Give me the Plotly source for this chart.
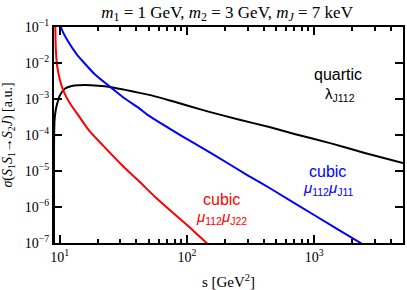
import math
import plotly.graph_objects as go

# ---- data ----
s_quartic = [9.0, 9.003, 9.02, 9.1, 9.25, 9.47, 10.05, 11.0, 12.4, 14, 15.8, 20, 24.8, 32, 42.4,
             52.7, 75, 105, 150, 250, 444, 700, 1380, 2500, 5000]
sig_quartic = [1e-9, 3.2e-5, 1.0e-4, 2.7e-4, 4.5e-4, 6.8e-4, 1.29e-3, 1.95e-3, 2.29e-3, 2.40e-3,
               2.43e-3, 2.34e-3, 2.17e-3, 1.82e-3, 1.48e-3, 1.26e-3, 8.9e-4, 6.3e-4, 4.4e-4,
               2.75e-4, 1.66e-4, 1.07e-4, 5.75e-5, 3.16e-5, 1.66e-5]

s_cubic11 = [10.0, 10.3, 11.5, 13.6, 15.2, 19, 24.8, 32, 42.4, 49.7, 75.2, 111, 164.4, 300, 460,
             1000, 2400, 2700]
sig_cubic11 = [0.14, 9.1e-2, 4.2e-2, 1.74e-2, 1.1e-2, 4.7e-3, 2.19e-3, 1.07e-3, 5.4e-4, 3.5e-4,
               1.41e-4, 6.2e-5, 2.75e-5, 7.6e-6, 3.16e-6, 6.0e-7, 9.3e-8, 7.2e-8]

s_cubic22 = [9.2, 9.3, 9.5, 10.0, 10.7, 12, 14, 17.2, 22, 31.3, 42.4, 57.3, 80, 104.7, 145.6, 160]
sig_cubic22 = [0.15, 2.5e-2, 8.9e-3, 3.5e-3, 1.66e-3, 7.6e-4, 3.5e-4, 1.26e-4, 5.0e-5, 1.38e-5,
               5.0e-6, 1.78e-6, 6.3e-7, 2.75e-7, 9.3e-8, 6.9e-8]

x_major = [10, 100, 1000]
x_major_text = ["10<sup>1</sup>", "10<sup>2</sup>", "10<sup>3</sup>"]
x_minor = [m * d for d in (10, 100, 1000) for m in range(2, 10) if m * d <= 5000]
y_major = [1e-7, 1e-6, 1e-5, 1e-4, 1e-3, 1e-2, 1e-1]
y_major_text = ["10<sup>−7</sup>", "10<sup>−6</sup>", "10<sup>−5</sup>", "10<sup>−4</sup>",
                "10<sup>−3</sup>", "10<sup>−2</sup>", "10<sup>−1</sup>"]

SERIF = "Liberation Serif, Times New Roman, serif"
SANS = "Liberation Sans, Arial, Helvetica, sans-serif"

fig = go.Figure()
fig.add_trace(go.Scatter(x=s_quartic, y=sig_quartic, mode="lines",
                         line=dict(color="black", width=2, shape="spline", smoothing=0.6)))
fig.add_trace(go.Scatter(x=s_cubic11, y=sig_cubic11, mode="lines",
                         line=dict(color="#0000ff", width=2, shape="spline", smoothing=0.6)))
fig.add_trace(go.Scatter(x=s_cubic22, y=sig_cubic22, mode="lines",
                         line=dict(color="#ff0000", width=2, shape="spline", smoothing=0.6)))

axis_common = dict(showgrid=False, zeroline=False, showline=True, linecolor="black", linewidth=2,
                   mirror="ticks", ticks="inside", ticklen=8, tickwidth=2, tickcolor="black",
                   automargin=False,
                   tickfont=dict(family=SERIF, size=14, color="black"))

fig.update_xaxes(type="log", range=[math.log10(9), math.log10(5000)],
                 tickmode="array", tickvals=x_major, ticktext=x_major_text,
                 minor=dict(tickmode="array", tickvals=x_minor, ticks="inside", ticklen=4,
                            tickwidth=1.5, tickcolor="black", showgrid=False),
                 title=dict(text="s [GeV<sup>2</sup>]", font=dict(family=SERIF, size=15, color="black")),
                 **axis_common)
fig.update_yaxes(type="log", range=[-7, -1], tickmode="array", tickvals=y_major, ticktext=y_major_text,
                 title=dict(text="<i>σ</i>(<i>S</i><sub>1</sub><i>S</i><sub>1</sub>→<i>S</i><sub>2</sub><i>J</i>) [a.u.]",
                            font=dict(family=SERIF, size=14, color="black")),
                 **axis_common)

ann = [
    dict(x=0.814, y=0.779, text="quartic", color="black", size=16),
    dict(x=0.819, y=0.687, text="λ<sub>J112</sub>", color="black", size=15),
    dict(x=0.785, y=0.330, text="cubic", color="#0000ff", size=16),
    dict(x=0.785, y=0.253, text="<i>μ</i><sub>112</sub><i>μ</i><sub>J11</sub>", color="#0000ff", size=15),
    dict(x=0.480, y=0.202, text="cubic", color="#ff0000", size=16),
    dict(x=0.481, y=0.120, text="<i>μ</i><sub>112</sub><i>μ</i><sub>J22</sub>", color="#ff0000", size=15),
]
for a in ann:
    fig.add_annotation(x=a["x"], y=a["y"], xref="paper", yref="paper", text=a["text"], showarrow=False,
                       xanchor="center", yanchor="middle",
                       font=dict(family=SANS, size=a["size"], color=a["color"]))

fig.update_layout(
    width=407, height=290,
    margin=dict(l=54, r=4, t=27, b=47),
    paper_bgcolor="white", plot_bgcolor="white",
    showlegend=False,
    title=dict(text="<i>m</i><sub>1</sub> = 1 GeV, <i>m</i><sub>2</sub> = 3 GeV, <i>m<sub>J</sub></i> = 7 keV",
               x=0.558, xanchor="center", y=0.959, yanchor="middle",
               font=dict(family=SERIF, size=17, color="black")),
)

fig.write_html("out.html", config={"displayModeBar": False},
               post_script="document.body.style.margin='0';document.body.style.overflow='hidden';")
